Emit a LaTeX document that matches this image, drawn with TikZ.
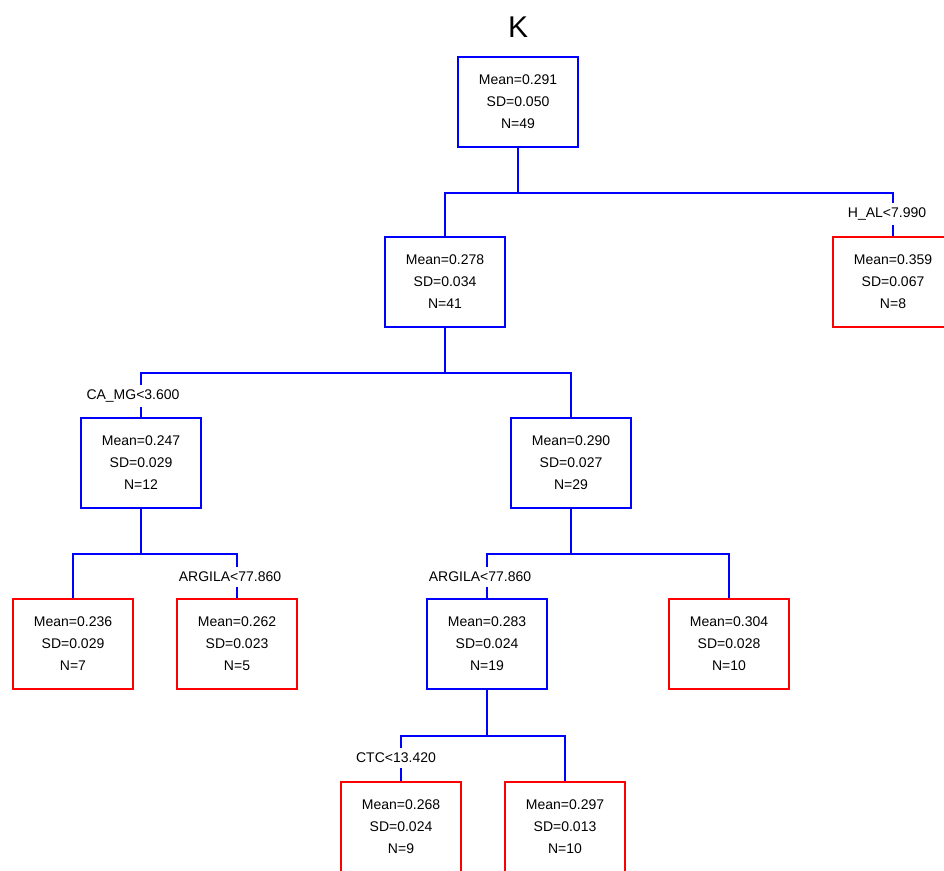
\documentclass[tikz,border=0pt]{standalone}
\usepackage{fontspec}
\setmainfont{Liberation Sans}
\begin{document}
\begin{tikzpicture}[x=1pt,y=-1pt,
  split/.style={draw=blue,line width=1.8pt,minimum width=120pt,minimum height=90pt,
    inner sep=0pt,align=center,font=\fontsize{14}{22}\selectfont},
  leaf/.style={split,draw=red},
  rule/.style={fill=white,inner xsep=1pt,inner ysep=5pt,font=\fontsize{14}{16}\selectfont},
  link/.style={draw=blue,line width=1.8pt}]
\useasboundingbox (0,0) rectangle (944,870);
\clip (0,0) rectangle (944,870);

\node (title) at (518,27) {\fontsize{30}{30}\selectfont K};

% tree nodes
\node[split] (root) at (518,102) {Mean=0.291\\SD=0.050\\N=49};
\node[split] (a)    at (445,282) {Mean=0.278\\SD=0.034\\N=41};
\node[leaf]  (h)    at (893,282) {Mean=0.359\\SD=0.067\\N=8};
\node[split] (b)    at (141,463) {Mean=0.247\\SD=0.029\\N=12};
\node[split] (c)    at (571,463) {Mean=0.290\\SD=0.027\\N=29};
\node[leaf]  (l1)   at (73,644)  {Mean=0.236\\SD=0.029\\N=7};
\node[leaf]  (l2)   at (237,644) {Mean=0.262\\SD=0.023\\N=5};
\node[split] (d)    at (487,644) {Mean=0.283\\SD=0.024\\N=19};
\node[leaf]  (l3)   at (729,644) {Mean=0.304\\SD=0.028\\N=10};
\node[leaf]  (l4)   at (401,827) {Mean=0.268\\SD=0.024\\N=9};
\node[leaf]  (l5)   at (565,827) {Mean=0.297\\SD=0.013\\N=10};

% elbow connectors
\foreach \p/\c in {root/a,root/h,a/b,a/c,b/l1,b/l2,c/d,c/l3}{
  \draw[link] (\p.south) -- ++(0,45) -| (\c.north);
}
\foreach \c in {l4,l5}{
  \draw[link] (d.south) -- ++(0,46) -| (\c.north);
}

% split rules
\node[rule] (rh)  at (887,214) {H\_AL<7.990};
\node[rule] (rb)  at (133,396) {CA\_MG<3.600};
\node[rule] (rl2) at (230,577) {ARGILA<77.860};
\node[rule] (rd)  at (480,577) {ARGILA<77.860};
\node[rule] (rl4) at (396,758) {CTC<13.420};
\end{tikzpicture}
\end{document}
